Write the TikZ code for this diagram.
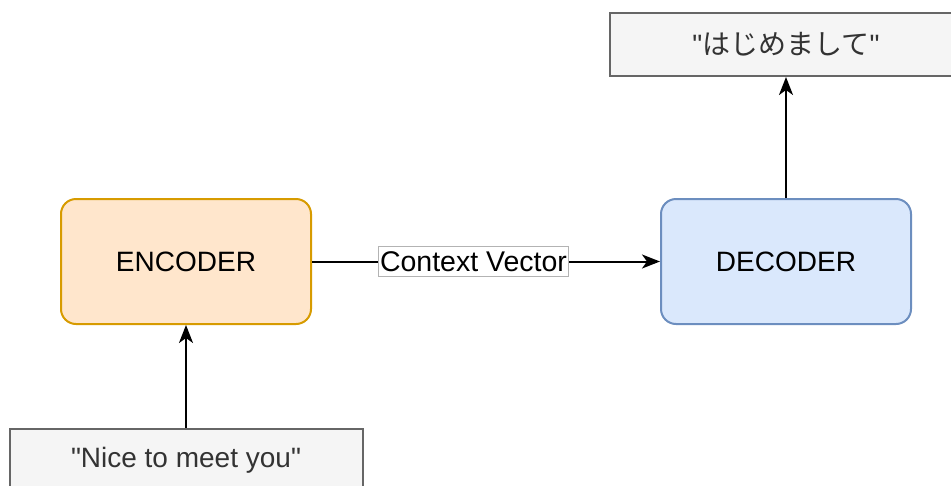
\documentclass[tikz,border=0pt]{standalone}
\usepackage{fontspec}
\setmainfont{Liberation Sans}[Ligatures=TeXOff]
\newfontfamily\jpfont{Noto Sans CJK JP}[Ligatures=TeXOff]
\usetikzlibrary{arrows.meta}
\definecolor{encfill}{HTML}{FFE6CC}
\definecolor{encdraw}{HTML}{D79B00}
\definecolor{decfill}{HTML}{DAE8FC}
\definecolor{decdraw}{HTML}{6C8EBF}
\definecolor{txtfill}{HTML}{F5F5F5}
\definecolor{txtdraw}{HTML}{666666}
\definecolor{txtfont}{HTML}{333333}
\definecolor{lbldraw}{HTML}{B3B3B3}
\tikzset{
  coder/.style={draw, line width=2pt, rounded corners=15pt, minimum width=250pt,
    minimum height=125pt, font=\fontsize{28}{32}\selectfont},
  sentence/.style={draw=txtdraw, fill=txtfill, line width=2pt, text=txtfont,
    minimum width=353pt, minimum height=63pt, font=\fontsize{28}{32}\selectfont},
  flow/.style={line width=2pt, -{Stealth[length=18pt,width=14pt,inset=5pt]}}
}
\begin{document}
\begin{tikzpicture}[x=1pt,y=-1pt]
\useasboundingbox (0,0) rectangle (951,485);
\clip (0,0) rectangle (951,485);
% boxes
\node[coder, draw=encdraw, fill=encfill] (enc) at (186,261.5) {ENCODER};
\node[coder, draw=decdraw, fill=decfill] (dec) at (786,261.5) {DECODER};
\node[sentence] (in) at (186,460) {"Nice to meet you"};
\node[sentence] (out) at (786,44.5) {"{\jpfont はじめまして}"};
% arrows
\draw[flow] (in) -- (enc);
\draw[flow] (dec) -- (out);
\draw[flow] (enc) -- node[pos=0.464, draw=lbldraw, line width=1pt, fill=white,
  inner xsep=1.5pt, inner ysep=5pt, font=\fontsize{28.5}{32}\selectfont] (ctx)
  {Context Vector} (dec);
\end{tikzpicture}
\end{document}
